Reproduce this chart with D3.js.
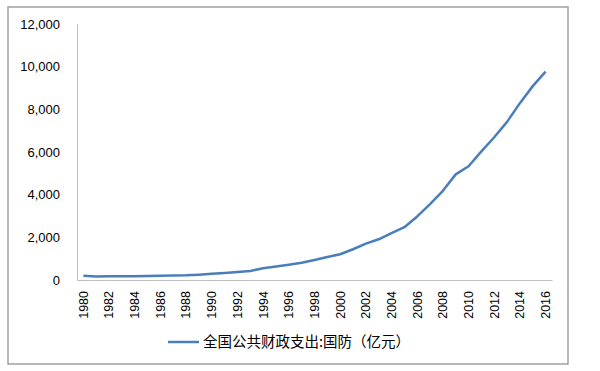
<!DOCTYPE html>
<html>
<head>
<meta charset="utf-8">
<script src="https://cdn.jsdelivr.net/npm/d3@7"></script>
<style>
  body { margin: 0; background: #fff; }
  text { font-family: "Liberation Sans", Arial, sans-serif; fill: #000; }
  .legend text { font-family: "Noto Sans CJK SC", sans-serif; }
</style>
</head>
<body>
<script>
// years shown on the category axis
var years = [1980, 1981, 1982, 1983, 1984, 1985, 1986, 1987, 1988, 1989,
  1990, 1991, 1992, 1993, 1994, 1995, 1996, 1997, 1998, 1999,
  2000, 2001, 2002, 2003, 2004, 2005, 2006, 2007, 2008, 2009,
  2010, 2011, 2012, 2013, 2014, 2015, 2016];

// defence spending, 100 million yuan
var defence = [193.8, 168.0, 176.4, 177.1, 180.8, 191.5, 200.8, 209.6, 218.0, 251.5,
  290.3, 330.3, 377.9, 425.8, 550.7, 636.7, 720.1, 812.6, 934.7, 1076.4,
  1207.5, 1442.0, 1707.8, 1907.9, 2200.0, 2475.0, 2979.4, 3554.9, 4178.8, 4951.1,
  5333.4, 6027.9, 6691.9, 7410.6, 8289.5, 9087.8, 9765.8];

var yTicks = [0, 2000, 4000, 6000, 8000, 10000, 12000];
var seriesName = "全国公共财政支出:国防（亿元）";

var width = 600, height = 371;
var margin = {top: 24, right: 48, bottom: 91, left: 77};

var svg = d3.select("body").append("svg")
    .attr("width", width)
    .attr("height", height);

// outer frame
svg.append("rect")
    .attr("x", 8).attr("y", 7)
    .attr("width", 560).attr("height", 357)
    .attr("fill", "none")
    .attr("stroke", "#a0a0a0")
    .attr("stroke-width", 1.5);

var x = d3.scaleBand()
    .domain(years)
    .range([margin.left, width - margin.right]);

var y = d3.scaleLinear()
    .domain([0, 12000])
    .range([height - margin.bottom, margin.top]);

// y axis
var yAxis = svg.append("g")
    .attr("transform", "translate(" + margin.left + ",0)")
    .call(d3.axisLeft(y).tickValues(yTicks).tickSize(0).tickPadding(17)
      .tickFormat(d3.format(",")));
yAxis.select(".domain").attr("stroke", "#bfbfbf");
yAxis.selectAll("text").style("font-size", "13px");

// x axis
var xAxis = svg.append("g")
    .attr("transform", "translate(0," + (height - margin.bottom) + ")")
    .call(d3.axisBottom(x).tickSize(0)
      .tickValues(years.filter(function(d) { return d % 2 == 0; })));
xAxis.select(".domain").attr("stroke", "#bfbfbf");
xAxis.selectAll("text")
    .style("font-size", "12.5px")
    .attr("text-anchor", "end")
    .attr("dy", "0.35em")
    .attr("transform", "translate(0,11)rotate(-90)")
    .attr("x", 0).attr("y", 0);

var line = d3.line()
    .x(function(d, i) { return x(years[i]) + x.bandwidth() / 2; })
    .y(function(d) { return y(d); });

svg.append("path")
    .datum(defence)
    .attr("fill", "none")
    .attr("stroke", "#4a7ebb")
    .attr("stroke-width", 2.5)
    .attr("stroke-linejoin", "round")
    .attr("d", line);

// legend
var legend = svg.append("g").attr("class", "legend");
legend.append("line")
    .attr("x1", 168).attr("x2", 199)
    .attr("y1", 342).attr("y2", 342)
    .attr("stroke", "#4a7ebb")
    .attr("stroke-width", 2.5);
legend.append("text")
    .attr("x", 203).attr("y", 342)
    .attr("dy", "0.35em")
    .style("font-size", "14.5px")
    .text(seriesName);
</script>
</body>
</html>
